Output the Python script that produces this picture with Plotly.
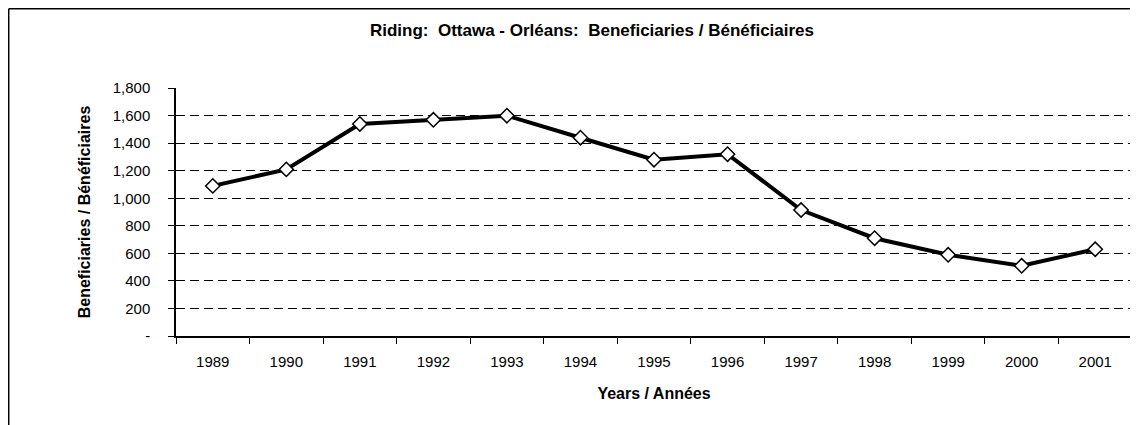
import plotly.graph_objects as go

years = ["1989", "1990", "1991", "1992", "1993", "1994", "1995", "1996",
         "1997", "1998", "1999", "2000", "2001"]
beneficiaries = [1090, 1210, 1540, 1570, 1600, 1440, 1280, 1320, 915, 710, 590, 510, 630]

y_tickvals = [0, 200, 400, 600, 800, 1000, 1200, 1400, 1600, 1800]
y_ticktext = ["-", "200", "400", "600", "800", "1,000", "1,200", "1,400", "1,600", "1,800"]

title_text = "Riding:\u00a0 Ottawa - Orléans:\u00a0 Beneficiaries / Bénéficiaires"
x_title = "Years / Années"
y_title = "Beneficiaries / Bénéficiaires"

# page offset (browser body margin)
OFF = 8
W, H = 1138 - OFF, 425 - OFF
PL, PT, PR, PB = 176, 88, 1132, 336   # plot area in page pixels
L, T = PL - OFF, PT - OFF
R, B = 1138 - PR, 425 - PB
pw, ph = PR - PL, PB - PT

def px_x(p):
    return (p - PL) / pw

def px_y(p):
    return (PB - p) / ph

fig = go.Figure()
fig.add_trace(go.Scatter(
    x=years, y=beneficiaries, mode="lines+markers",
    line=dict(color="black", width=4),
    marker=dict(symbol="diamond", size=11, color="white",
                line=dict(color="black", width=1.5)),
    showlegend=False, hoverinfo="x+y",
))

font_fam = "Liberation Sans, Arial, sans-serif"

fig.update_layout(
    width=W, height=H,
    margin=dict(l=L, r=R, t=T, b=B),
    paper_bgcolor="white", plot_bgcolor="white",
    font=dict(family=font_fam, size=15, color="black"),
    xaxis=dict(
        type="category", tickson="boundaries", ticks="outside", ticklen=6,
        tickcolor="black", tickwidth=1, showgrid=False,
        showline=True, linecolor="black", linewidth=2,
        range=[-0.5, 12.5], tickfont=dict(size=15), ticklabelstandoff=11,
        title=dict(text="<b>" + x_title + "</b>", font=dict(size=16), standoff=19),
    ),
    yaxis=dict(
        range=[0, 1801], tickvals=y_tickvals, ticktext=y_ticktext,
        ticks="outside", ticklen=6, tickcolor="black",
        showline=True, linecolor="black", linewidth=1.5,
        showgrid=True, gridcolor="black", gridwidth=1, griddash="9px,5px",
        zeroline=False, tickfont=dict(size=15), ticklabelstandoff=15,
        title=dict(text="<b>" + y_title + "</b>", font=dict(size=16), standoff=18),
    ),
    title=dict(text="<b>" + title_text + "</b>", x=px_x(592),
               xref="paper", xanchor="center",
               y=1 - (30 - OFF) / H, yanchor="middle", font=dict(size=17)),
    shapes=[
        # outer chart-area border (top and left edges visible)
        dict(type="line", xref="paper", yref="paper", x0=px_x(8.7), x1=px_x(1140),
             y0=px_y(8.7), y1=px_y(8.7), line=dict(color="black", width=1.5)),
        dict(type="line", xref="paper", yref="paper", x0=px_x(8.7), x1=px_x(8.7),
             y0=px_y(8.7), y1=px_y(430), line=dict(color="black", width=1.5)),
        # right plot border
        dict(type="line", xref="paper", yref="paper", x0=1, x1=1, y0=0, y1=1,
             line=dict(color="#555555", width=1)),
    ],
)

fig.write_html("out.html")
